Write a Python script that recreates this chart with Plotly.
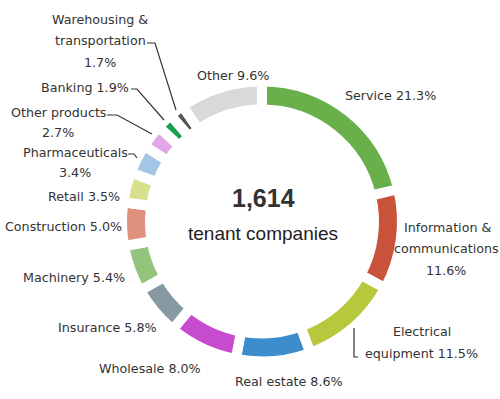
import plotly.graph_objects as go

W, H = 500, 399

categories = ["Service", "Information & communications", "Electrical equipment",
              "Real estate", "Wholesale", "Insurance", "Machinery", "Construction",
              "Retail", "Pharmaceuticals", "Other products", "Banking",
              "Warehousing & transportation", "Other"]
values = [21.3, 11.6, 11.5, 8.6, 8.0, 5.8, 5.4, 5.0, 3.5, 3.4, 2.7, 1.9, 1.7, 9.6]
colors = ["#69b04b", "#c9533a", "#b7c83c", "#3d8ccc", "#c64bcf", "#8799a2",
          "#93c47d", "#e0907f", "#d9e08c", "#a3c6e6", "#e3a6e6", "#17a04f",
          "#555555", "#d9d9d9"]
total_companies = "1,614"
center_caption = "tenant companies"

# label line splits ("{v}" is replaced by the value)
label_lines = {
    "Service": ["Service {v}%"],
    "Information & communications": ["Information &", "communications", "{v}%"],
    "Electrical equipment": ["Electrical", "equipment {v}%"],
    "Real estate": ["Real estate {v}%"],
    "Wholesale": ["Wholesale {v}%"],
    "Insurance": ["Insurance {v}%"],
    "Machinery": ["Machinery {v}%"],
    "Construction": ["Construction {v}%"],
    "Retail": ["Retail {v}%"],
    "Pharmaceuticals": ["Pharmaceuticals", "{v}%"],
    "Other products": ["Other products", "{v}%"],
    "Banking": ["Banking {v}%"],
    "Warehousing & transportation": ["Warehousing &", "transportation", "{v}%"],
    "Other": ["Other {v}%"],
}
# pixel positions of each label line (layout only)
label_pos = {
    "Service": [(390, 95)],
    "Information & communications": [(447, 227), (446, 248), (446, 270)],
    "Electrical equipment": [(422, 331), (421, 353)],
    "Real estate": [(289, 381)],
    "Wholesale": [(150, 368)],
    "Insurance": [(107, 327)],
    "Machinery": [(74, 277)],
    "Construction": [(63, 226)],
    "Retail": [(84, 197)],
    "Pharmaceuticals": [(75, 152), (75, 172)],
    "Other products": [(58, 112), (58, 133)],
    "Banking": [(85, 87)],
    "Warehousing & transportation": [(100, 19), (100, 41), (100, 62)],
    "Other": [(233, 75)],
}
leaders = [
    [(147, 43), (155, 43), (176, 110)],
    [(131, 89), (137, 89), (164, 120)],
    [(107, 115), (117, 115), (152, 134)],
    [(128, 154), (134, 154), (137, 158)],
    [(358, 357), (354, 357), (354, 328)],
]


def px(x):
    return x / W


def py(y):
    return 1 - y / H


cx, cy, R = 262, 221.5, 140

fig = go.Figure(go.Pie(
    labels=categories, values=values, sort=False, direction="clockwise",
    rotation=0, hole=0.8,
    marker=dict(colors=colors, line=dict(color="white", width=10)),
    textinfo="none", hoverinfo="label+percent", showlegend=False,
    domain=dict(x=[px(cx - R), px(cx + R)], y=[py(cy + R), py(cy - R)]),
))

font_lbl = dict(family="DejaVu Sans", size=12.7, color="#333333")
ann = []
for name, v in zip(categories, values):
    for line, (x, y) in zip(label_lines[name], label_pos[name]):
        ann.append(dict(x=px(x), y=py(y), xref="paper", yref="paper",
                        text=line.replace("{v}", f"{v:.1f}"), showarrow=False,
                        xanchor="center", yanchor="middle", font=font_lbl))
ann.append(dict(x=px(263), y=py(198), xref="paper", yref="paper",
                text=f"<b>{total_companies}</b>", showarrow=False,
                xanchor="center", yanchor="middle",
                font=dict(family="Liberation Sans", size=25, color="#333333")))
ann.append(dict(x=px(263), y=py(233), xref="paper", yref="paper",
                text=center_caption, showarrow=False,
                xanchor="center", yanchor="middle",
                font=dict(family="Liberation Sans", size=19, color="#222222")))

shapes = []
for pts in leaders:
    path = "M" + " L".join(f"{px(x):.5f},{py(y):.5f}" for x, y in pts)
    shapes.append(dict(type="path", path=path, xref="paper", yref="paper",
                       line=dict(color="#333333", width=1.2)))

fig.update_layout(width=W, height=H, margin=dict(l=0, r=0, t=0, b=0),
                  paper_bgcolor="white", plot_bgcolor="white",
                  annotations=ann, shapes=shapes)
fig.write_html("out.html", config={"displayModeBar": False},
               post_script="document.body.style.margin='0';document.body.style.overflow='hidden';")
